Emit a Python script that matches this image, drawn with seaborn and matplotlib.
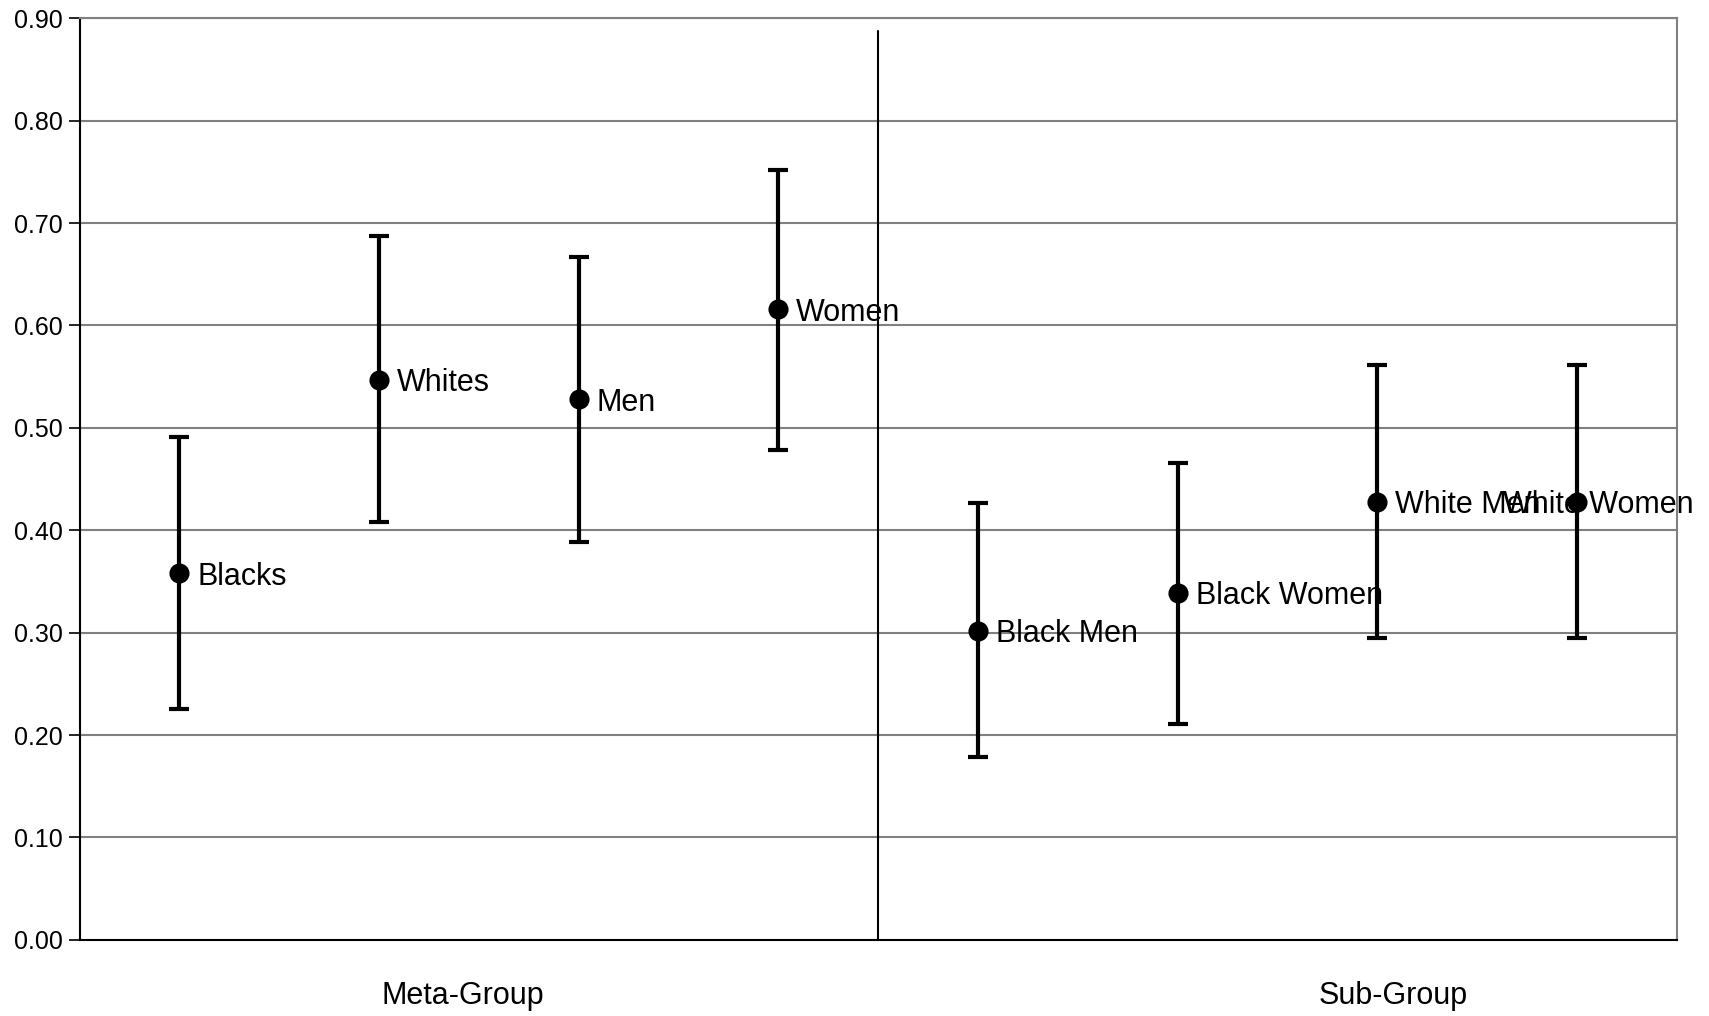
import numpy as np
import pandas as pd
import matplotlib
matplotlib.use("Agg")
import matplotlib.pyplot as plt
import seaborn as sns

# ── Data ──────────────────────────────────────────────────────────────────────
groups = ["Blacks", "Whites", "Men", "Women",
          "Black Men", "Black Women", "White Men", "White Women"]
means = [0.358, 0.547, 0.528, 0.616, 0.302, 0.339, 0.428, 0.428]
lower = [0.225, 0.408, 0.389, 0.478, 0.179, 0.211, 0.295, 0.295]
upper = [0.491, 0.687, 0.667, 0.752, 0.427, 0.466, 0.561, 0.561]
section_labels = ["Meta-Group", "Sub-Group"]
y_ticks = [0.0, 0.1, 0.2, 0.3, 0.4, 0.5, 0.6, 0.7, 0.8, 0.9]

df = pd.DataFrame({"group": groups, "mean": means, "lo": lower, "hi": upper})

sns.set_theme(style="white")
plt.rcParams["font.family"] = ["Liberation Sans", "DejaVu Sans"]

fig, ax = plt.subplots(figsize=(17.09, 10.16), dpi=100)
fig.subplots_adjust(left=0.0466, right=0.981, top=0.982, bottom=0.075)

x = np.arange(len(df))
for yv in y_ticks[1:]:
    ax.axhline(yv, color="#808080", linewidth=1.5, zorder=0)

# intervalli di confidenza
ax.errorbar(x, df["mean"],
            yerr=[df["mean"] - df["lo"], df["hi"] - df["mean"]],
            fmt="none", ecolor="black", elinewidth=3.0,
            capsize=7.5, capthick=3.0, zorder=2)
sns.scatterplot(x=x, y=df["mean"], ax=ax, s=180, color="black",
                edgecolor="black", zorder=3, legend=False)

# l'ultima etichetta è spostata a sinistra per restare nel riquadro
label_dx = {"White Women": -53}
for xi, (lbl, m) in enumerate(zip(df["group"], df["mean"])):
    ax.annotate(lbl, (xi, m), xytext=(label_dx.get(lbl, 13), 0),
                textcoords="offset points", va="center_baseline", ha="left",
                fontsize=22, color="black", zorder=4, annotation_clip=False)

# separatore tra i due blocchi
ax.plot([3.5, 3.5], [0, 0.888], color="black", linewidth=1.5, zorder=1)

ax.set_xlim(-0.5, len(df) - 0.5)
ax.set_ylim(0, 0.9)
ax.set_yticks(y_ticks)
ax.set_yticklabels([f"{v:.2f}" for v in y_ticks], fontsize=18, color="black")
ax.set_xticks([])
ax.set_xlabel("")
ax.set_ylabel("")
ax.tick_params(axis="y", direction="out", length=8, width=1.2,
               color="black", left=True, pad=4)

for side in ["left", "bottom"]:
    ax.spines[side].set_color("black")
    ax.spines[side].set_linewidth(1.5)
for side in ["top", "right"]:
    ax.spines[side].set_color("#808080")
    ax.spines[side].set_linewidth(1.5)

ax.text(1.42, -0.055, section_labels[0], ha="center", va="center",
        fontsize=22, color="black", clip_on=False)
ax.text(6.08, -0.055, section_labels[1], ha="center", va="center",
        fontsize=22, color="black", clip_on=False)

fig.savefig("out.png", dpi=100)
